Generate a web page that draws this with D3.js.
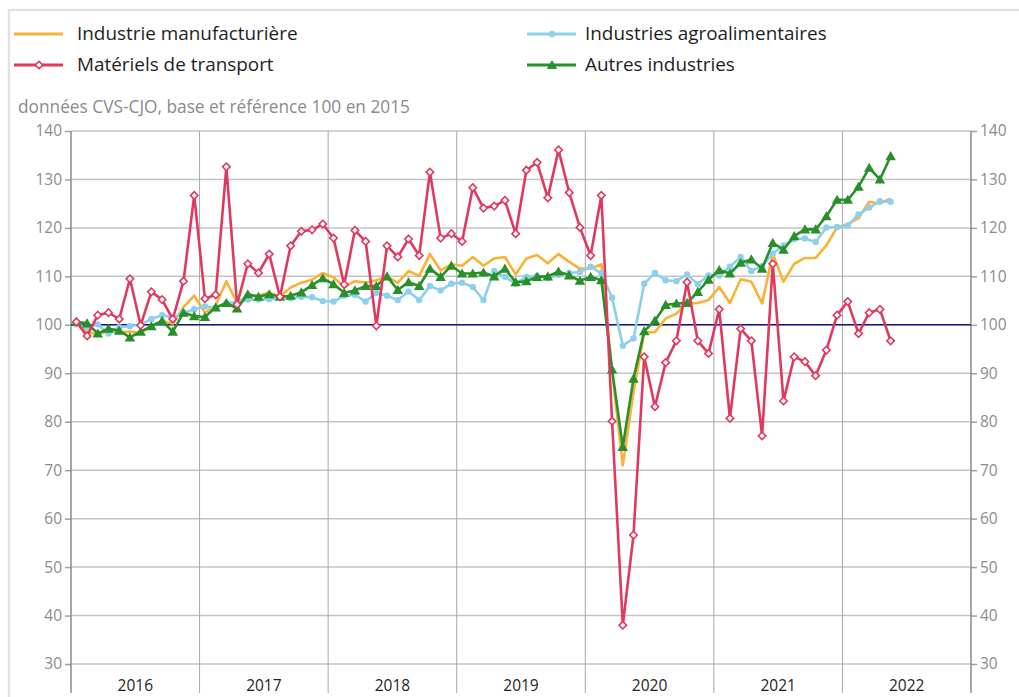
<!DOCTYPE html>
<html>
<head>
<meta charset="utf-8">
<script src="https://cdn.jsdelivr.net/npm/d3@7"></script>
<style>
  body { margin: 0; background: #fff; font-family: "Open Sans", sans-serif; }
  svg text { font-family: "Open Sans", sans-serif; }
</style>
</head>
<body>
<div id="chart"></div>
<script>
// years shown on the x axis, data is monthly from jan 2016 to may 2022
const years = ["2016", "2017", "2018", "2019", "2020", "2021", "2022"];
const yTicks = [30, 40, 50, 60, 70, 80, 90, 100, 110, 120, 130, 140];

const manuf = [100.3, 98.5, 98.0, 98.7, 98.5, 98.6, 98.3, 99.8, 100.8, 100.2, 103.7, 106.0,
  102.5, 104.0, 109.0, 104.5, 106.1, 106.0, 106.7, 105.8, 107.7, 108.7, 109.3, 110.7,
  109.8, 107.8, 109.0, 108.7, 109.2, 109.9, 108.7, 111.1, 110.1, 114.6, 111.2, 112.5,
  112.2, 114.0, 112.2, 113.7, 114.0, 110.4, 113.7, 114.4, 112.7, 114.6, 113.0, 111.6,
  111.6, 112.5, 90.5, 71.0, 86.0, 98.4, 98.5, 101.3, 102.3, 104.4, 104.5, 105.1,
  107.8, 104.5, 109.4, 108.9, 104.4, 114.7, 108.9, 112.6, 113.8, 113.8, 116.4, 120.1,
  120.8, 122.0, 125.4, 125.0, 126.1];

const agro = [100.1, 99.5, 100.1, 98.2, 99.5, 99.7, 100.1, 101.2, 102.0, 101.5, 102.5, 103.2,
  103.8, 103.5, 104.5, 104.7, 105.2, 105.2, 105.3, 105.6, 105.5, 105.8, 105.7, 104.9,
  104.8, 106.0, 106.2, 104.8, 106.6, 106.0, 105.1, 106.9, 105.1, 108.0, 107.1, 108.5,
  108.7, 107.8, 105.1, 111.1, 109.9, 108.5, 109.9, 110.1, 109.6, 110.3, 110.7, 110.9,
  112.0, 110.6, 105.6, 95.7, 97.2, 108.5, 110.7, 109.2, 109.0, 110.4, 108.4, 110.2,
  110.2, 112.0, 114.0, 111.1, 112.1, 114.7, 116.4, 117.7, 117.8, 117.1, 120.1, 120.2,
  120.5, 122.8, 124.2, 125.5, 125.4];

const transport = [100.6, 97.7, 102.0, 102.5, 101.2, 109.5, 99.9, 106.8, 105.2, 101.2, 109.0, 126.7,
  105.4, 106.2, 132.6, 104.2, 112.6, 110.7, 114.6, 105.8, 116.3, 119.3, 119.6, 120.8,
  117.9, 108.3, 119.5, 117.2, 99.8, 116.3, 114.0, 117.7, 114.3, 131.5, 117.9, 118.8,
  117.2, 128.3, 124.1, 124.5, 125.7, 118.8, 131.9, 133.5, 126.2, 136.1, 127.3, 120.1,
  114.3, 126.7, 80.1, 38.0, 56.6, 93.4, 83.1, 92.2, 96.7, 108.8, 96.7, 94.1,
  103.2, 80.7, 99.2, 96.7, 77.1, 112.6, 84.3, 93.4, 92.4, 89.5, 94.8, 102.0,
  104.8, 98.2, 102.5, 103.2, 96.7];

const autres = [100.6, 100.3, 98.2, 99.2, 98.8, 97.4, 98.6, 99.7, 100.8, 98.6, 102.5, 101.8,
  101.6, 103.6, 104.5, 103.4, 106.3, 105.8, 106.3, 105.8, 106.0, 106.7, 108.2, 109.6,
  108.4, 106.6, 107.1, 108.0, 108.0, 110.0, 107.2, 108.8, 108.0, 111.6, 109.9, 112.2,
  110.6, 110.6, 110.8, 110.0, 111.6, 108.8, 109.0, 109.9, 110.0, 111.0, 110.2, 109.1,
  109.9, 109.2, 90.8, 74.8, 88.9, 98.7, 100.9, 104.1, 104.4, 104.5, 106.8, 109.3,
  111.3, 110.6, 112.8, 113.5, 111.6, 116.9, 115.5, 118.3, 119.7, 119.7, 122.4, 125.8,
  125.8, 128.5, 132.4, 130.0, 134.8];

const W = 1019, H = 697;
const plotLeft = 71, plotRight = 971, plotTop = 131, plotBottom = 664;

// one slot per month over the 7 years
const months = d3.timeMonth.range(new Date(2016, 0, 1), new Date(2023, 0, 1));

const x = d3.scaleBand().domain(d3.range(months.length)).range([plotLeft, plotRight]).padding(0);
const xYear = d3.scaleBand().domain(years).range([plotLeft, plotRight]);
const y = d3.scaleLinear().domain([30, 140]).range([plotBottom, plotTop]);

const svg = d3.select('#chart').append('svg')
  .attr('width', W)
  .attr('height', H);

// outer frame (only top and left are visible)
svg.append('path')
  .attr('d', `M9,${H} V10 H${W}`)
  .attr('fill', 'none')
  .attr('stroke', '#e2e2e2')
  .attr('stroke-width', 2.5);

// legend
const legend = [
  {name: 'Industrie manufacturière', color: '#fbb135', mark: null, lx: 14, tx: 77, ly: 34},
  {name: 'Industries agroalimentaires', color: '#8dd0ec', mark: 'circle', lx: 527, tx: 585, ly: 34},
  {name: 'Matériels de transport', color: '#e0395f', mark: 'diamond', lx: 14, tx: 77, ly: 65},
  {name: 'Autres industries', color: '#27902a', mark: 'triangle', lx: 527, tx: 585, ly: 65}
];

const diamondPath = d3.symbol().type(d3.symbolSquare).size(28);
const trianglePath = d3.symbol().type(d3.symbolTriangle).size(48);

function drawMark(g, mark, color, cx, cy) {
  if (mark == 'circle') {
    g.append('circle').attr('cx', cx).attr('cy', cy).attr('r', 3.2).attr('fill', color);
  } else if (mark == 'diamond') {
    g.append('path').attr('d', diamondPath())
      .attr('transform', `translate(${cx},${cy}) rotate(45)`)
      .attr('fill', '#fff').attr('stroke', color).attr('stroke-width', 1.6);
  } else if (mark == 'triangle') {
    g.append('path').attr('d', trianglePath())
      .attr('transform', `translate(${cx},${cy + 1})`)
      .attr('fill', color);
  }
}

legend.forEach(d => {
  const g = svg.append('g');
  g.append('line')
    .attr('x1', d.lx).attr('x2', d.lx + 49)
    .attr('y1', d.ly).attr('y2', d.ly)
    .attr('stroke', d.color).attr('stroke-width', 3);
  drawMark(g, d.mark, d.color, d.lx + 25, d.ly);
  g.append('text')
    .attr('x', d.tx).attr('y', d.ly + 6)
    .attr('font-size', 18.9).attr('fill', '#1e1e1e')
    .text(d.name);
});

svg.append('text')
  .attr('x', 18).attr('y', 113)
  .attr('font-size', 17.3).attr('fill', '#8a8a8a')
  .text('données CVS-CJO, base et référence 100 en 2015');

// horizontal gridlines
svg.append('g').selectAll('line')
  .data(yTicks)
  .join('line')
  .attr('x1', plotLeft).attr('x2', plotRight)
  .attr('y1', d => y(d)).attr('y2', d => y(d))
  .attr('stroke', '#c4c4c4').attr('stroke-width', 1.5);

// year separators, they run down through the year band
svg.append('g').selectAll('line')
  .data(years.slice(1))
  .join('line')
  .attr('x1', d => xYear(d)).attr('x2', d => xYear(d))
  .attr('y1', plotTop).attr('y2', H - 4)
  .attr('stroke', '#a8a8a8').attr('stroke-width', 1);

// y axes on both sides
const yLeft = svg.append('g')
  .attr('transform', `translate(${plotLeft},0)`)
  .call(d3.axisLeft(y).tickValues(yTicks).tickSize(6).tickPadding(3));
const yRight = svg.append('g')
  .attr('transform', `translate(${plotRight},0)`)
  .call(d3.axisRight(y).tickValues(yTicks).tickSize(6).tickPadding(3));

[yLeft, yRight].forEach(a => {
  a.select('.domain').remove();
  a.selectAll('.tick line').attr('stroke', '#a0a0a0').attr('stroke-width', 1.5);
  a.selectAll('.tick text').attr('font-size', 15.5).attr('fill', '#8c8c8c')
    .attr('font-family', '"Open Sans", sans-serif');
});

// axis lines
[plotLeft, plotRight].forEach(px => {
  svg.append('line')
    .attr('x1', px).attr('x2', px)
    .attr('y1', plotTop).attr('y2', H - 4)
    .attr('stroke', '#8a8a8a').attr('stroke-width', 1.5);
});

// year labels
svg.append('g').selectAll('text')
  .data(years)
  .join('text')
  .attr('x', d => xYear(d) + xYear.bandwidth() / 2)
  .attr('y', 691)
  .attr('text-anchor', 'middle')
  .attr('font-size', 15.5).attr('fill', '#1e1e1e')
  .text(d => d);

// reference line at 100
svg.append('line')
  .attr('x1', plotLeft).attr('x2', plotRight)
  .attr('y1', y(100)).attr('y2', y(100))
  .attr('stroke', '#14147a').attr('stroke-width', 1.5);

const cx = i => x(i) + x.bandwidth() / 2;
const line = d3.line().x((d, i) => cx(i)).y(d => y(d));

function drawSeries(values, color, mark) {
  const g = svg.append('g');
  g.append('path')
    .datum(values)
    .attr('d', line)
    .attr('fill', 'none')
    .attr('stroke', color)
    .attr('stroke-width', 2.6)
    .attr('stroke-linejoin', 'round');
  if (mark) {
    values.forEach((v, i) => drawMark(g, mark, color, cx(i), y(v)));
  }
}

drawSeries(manuf, legend[0].color, null);
drawSeries(agro, legend[1].color, 'circle');
drawSeries(autres, legend[3].color, 'triangle');
drawSeries(transport, legend[2].color, 'diamond');
</script>
</body>
</html>
